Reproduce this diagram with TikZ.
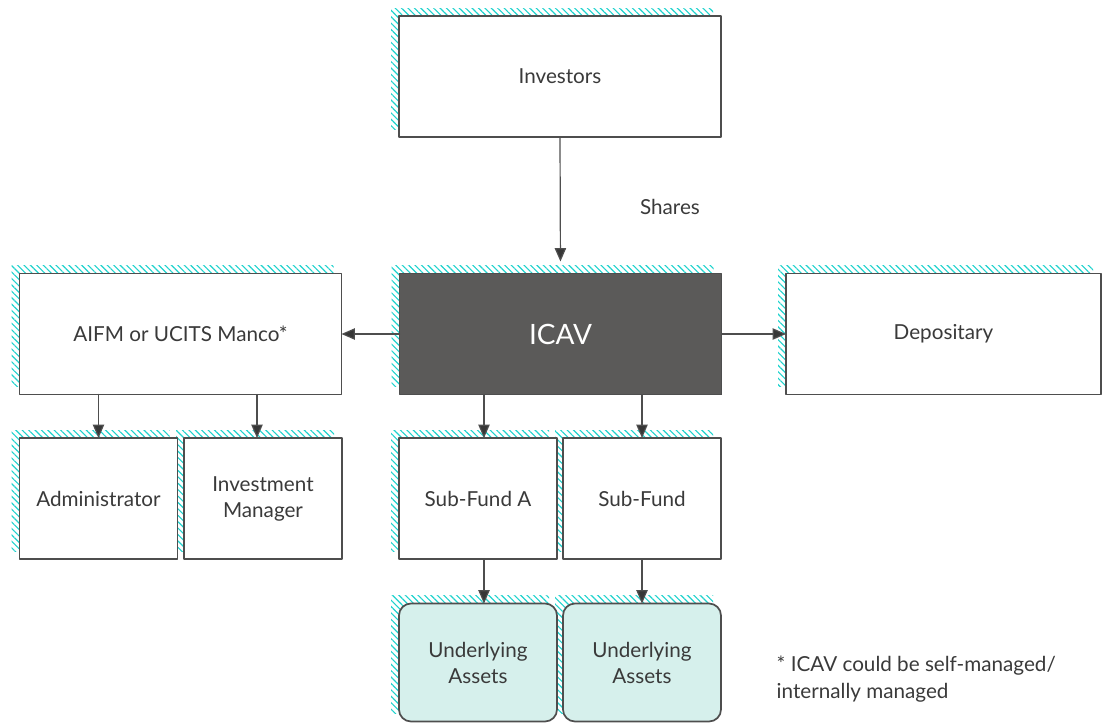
\documentclass[tikz,border=0pt]{standalone}
\usepackage{fontspec}
\setmainfont{Lato}
\usetikzlibrary{arrows.meta}
\usetikzlibrary{patterns.meta}
\usetikzlibrary{backgrounds}
\definecolor{darkslate}{RGB}{91,90,89}
\definecolor{palecyan}{RGB}{214,240,236}
\definecolor{hatchcyan}{RGB}{30,210,205}
\definecolor{inkgrey}{RGB}{58,58,58}
\definecolor{edgegrey}{RGB}{78,78,78}
\definecolor{tipgrey}{RGB}{55,55,55}

\begin{document}
\begin{tikzpicture}[line cap=round,line join=round,>={Triangle[length=10pt,width=8.5pt,fill=tipgrey]},x=0.75pt,y=-0.75pt,
  box/.style={draw=edgegrey,line width=1.3pt,fill=white,inner sep=0pt,outer sep=0pt,text=inkgrey,
    font=\fontsize{15.5}{19.5}\selectfont,align=center,minimum height=90.75pt},
  widebox/.style={box,minimum width=241.5pt},
  smallbox/.style={box,minimum width=118.5pt},
  assetbox/.style={smallbox,rounded corners=9pt,fill=palecyan,minimum height=88.5pt},
  hatch/.style={pattern={Lines[angle=-45,distance=3.4pt,line width=0.85pt]},pattern color=hatchcyan},
  link/.style={->,draw=edgegrey,line width=0.9pt},
  plain/.style={text=inkgrey,font=\fontsize{15.5}{20}\selectfont}]
\useasboundingbox (0,0) rectangle (1104,722);
\node[widebox] (inv) at (560,76.5) {Investors};
\node[widebox,fill=darkslate,text=white,font=\fontsize{21}{25}\selectfont] (icav) at (560.5,334) {ICAV};
\node[widebox] (aifm) at (180.5,334) {AIFM or UCITS Manco*};
\node[widebox,minimum width=236.25pt] (dep) at (943.5,334) {Depositary};
\node[smallbox] (admin) at (98.5,498.5) {Administrator};
\node[smallbox] (im) at (263,498.5) {Investment\\Manager};
\node[smallbox] (sfa) at (478,498.5) {Sub-Fund A};
\node[smallbox] (sfb) at (642,498.5) {Sub-Fund};
\node[assetbox] (uaa) at (478,662.5) {Underlying\\Assets};
\node[assetbox] (uab) at (642,662.5) {Underlying\\Assets};
\node[plain] (shares) at (670,207) {Shares};
\node[plain,anchor=west,align=left] (note) at (772,679) {* ICAV could be self-managed/\\internally managed};
\begin{scope}[on background layer]
\foreach \n in {inv,icav,aifm,dep,admin,im,sfa,sfb,uaa,uab}
\fill[hatch] ([shift={(-8,-8)}]\n.north west) rectangle ([shift={(-8,-8)}]\n.south east);
\end{scope}
\coordinate (imtop) at ([xshift=-4.5pt]im.north);
\coordinate (sfatop) at ([xshift=4.5pt]sfa.north);
\coordinate (uaatop) at ([xshift=4.5pt]uaa.north);
\draw[link,shorten >=9pt] (inv.south) -- (icav.north);
\draw[link] (icav.west) -- (aifm.east);
\draw[link] (icav.east) -- (dep.west);
\draw[link] (aifm.south -| admin.north) -- (admin.north);
\draw[link] (aifm.south -| imtop) -- (imtop);
\draw[link] (icav.south -| sfatop) -- (sfatop);
\draw[link] (icav.south -| sfb.north) -- (sfb.north);
\draw[link] (sfa.south -| uaatop) -- (uaatop);
\draw[link] (sfb.south) -- (uab.north);
\end{tikzpicture}
\end{document}
